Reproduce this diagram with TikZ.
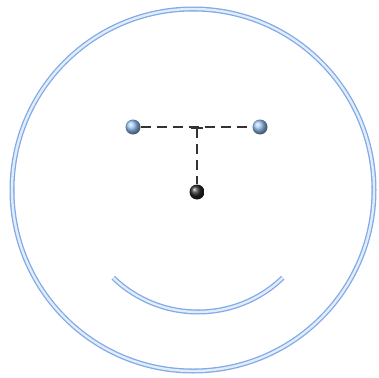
\documentclass[tikz,border=0pt]{standalone}
\usepackage{tikz}

\definecolor{rimblue}{RGB}{130,170,228}
\definecolor{rimlight}{RGB}{225,236,252}
\definecolor{eyeblue}{RGB}{150,195,245}

\begin{document}
\begin{tikzpicture}[x=1pt,y=-1pt,
  rim/.style={draw=rimblue,line width=1.3pt,double=rimlight,double distance=2.4pt},
  eye/.style={circle,inner sep=0pt,minimum size=15pt,shading=ball,ball color=eyeblue},
  pivot/.style={circle,inner sep=0pt,minimum size=15pt,shading=ball,ball color=black!85},
  link/.style={draw=black!80,line width=1.6pt,dash pattern=on 10pt off 6pt}]
\useasboundingbox (0,0) rectangle (379,377);
% face
\draw[rim] (193,190) circle (181);
\draw[rim] (198,190) ++(134:122) arc (134:46:122);
% eyes and nose
\node[eye] (lefteye) at (133,127) {};
\node[eye] (righteye) at (260,127) {};
\node[pivot] (nose) at (197,192) {};
\coordinate (tee) at (197,128);
\draw[link] (lefteye) -- (righteye);
\draw[link,dash phase=0pt] (tee) -- (nose);
\draw[draw=black!80,line width=1.6pt] (191,128) -- (203,128);
\end{tikzpicture}
\end{document}
